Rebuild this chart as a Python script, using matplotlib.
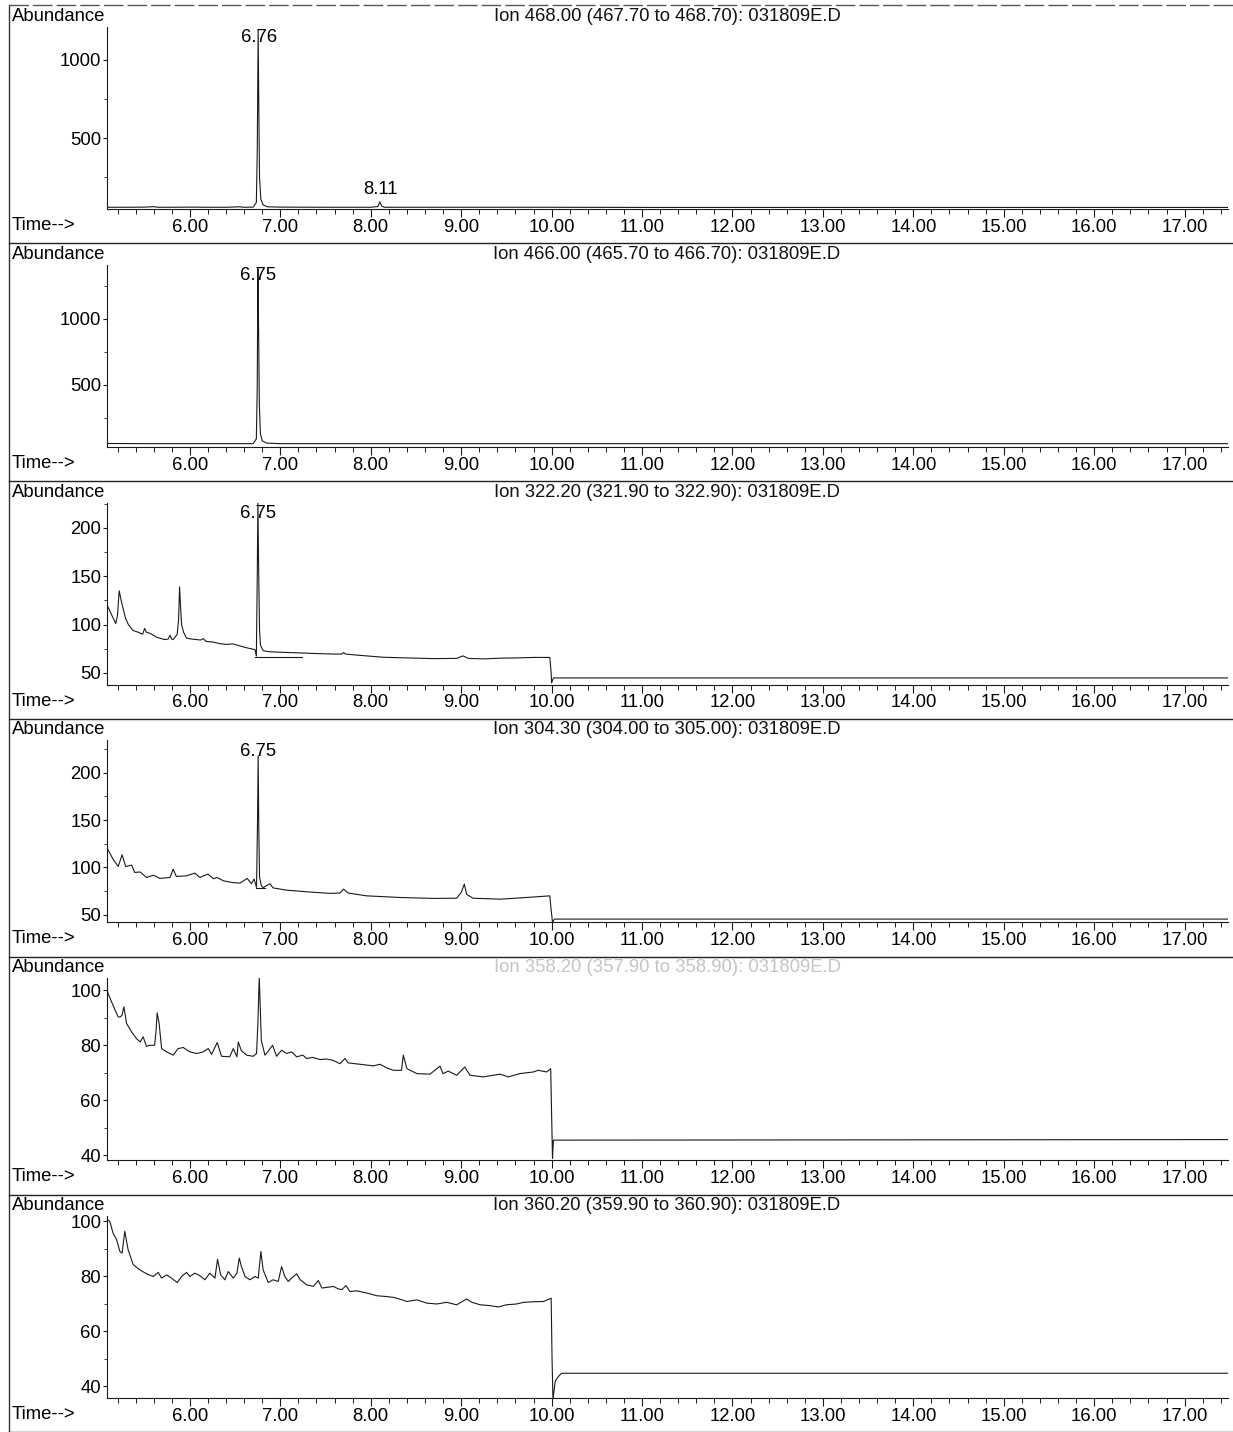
import matplotlib
matplotlib.use("Agg")
import matplotlib.pyplot as plt
import matplotlib.transforms as mtransforms
from matplotlib.ticker import MultipleLocator, FixedLocator

plt.rcParams['font.family'] = ['Liberation Sans', 'DejaVu Sans']

# ---------------- data ----------------
titles = [
    "Ion 468.00 (467.70 to 468.70): 031809E.D",
    "Ion 466.00 (465.70 to 466.70): 031809E.D",
    "Ion 322.20 (321.90 to 322.90): 031809E.D",
    "Ion 304.30 (304.00 to 305.00): 031809E.D",
    "Ion 358.20 (357.90 to 358.90): 031809E.D",
    "Ion 360.20 (359.90 to 360.90): 031809E.D",
]
title_colors = ['#111111', '#111111', '#111111', '#111111', '#c4c4c4', '#111111']

x_major = [6, 7, 8, 9, 10, 11, 12, 13, 14, 15, 16, 17]

t1 = [5.08, 5.3, 5.5, 5.6, 5.65, 5.8, 6.0, 6.2, 6.4, 6.55, 6.6, 6.7, 6.735, 6.745, 6.755,
      6.762, 6.77, 6.785, 6.81, 6.86, 7.0, 7.5, 8.0, 8.08, 8.10, 8.12, 8.15, 8.5, 9.0, 9.5,
      10.0, 11.0, 12.0, 13.0, 14.0, 15.0, 16.0, 17.0, 17.48]
v1 = [60, 60, 61, 64, 60, 60, 61, 60, 60, 63, 60, 61, 90, 420, 1190,
      700, 250, 110, 75, 63, 61, 60, 60, 65, 95, 68, 60, 60, 60, 60,
      60, 59, 59, 59, 59, 59, 59, 59, 59]

t2 = [5.08, 5.5, 6.0, 6.5, 6.7, 6.735, 6.745, 6.752, 6.76, 6.768, 6.78, 6.80, 6.85, 7.0,
      8.0, 9.0, 10.0, 12.0, 14.0, 16.0, 17.48]
v2 = [55, 54, 54, 54, 54, 90, 500, 1380, 900, 350, 130, 75, 58, 54,
      54, 54, 54, 54, 54, 54, 54]

t3 = [5.08, 5.13, 5.18, 5.20, 5.218, 5.24, 5.26, 5.29, 5.32, 5.37, 5.43, 5.477, 5.50, 5.52,
      5.558, 5.63, 5.72, 5.76, 5.779, 5.80, 5.815, 5.86, 5.875, 5.886, 5.897, 5.908, 5.93,
      5.963, 6.02, 6.074, 6.12, 6.147, 6.18, 6.25, 6.33, 6.40, 6.48, 6.55, 6.627, 6.70, 6.72,
      6.735, 6.745, 6.752, 6.76, 6.77, 6.78, 6.81, 6.87, 6.92, 7.05, 7.217, 7.40, 7.60, 7.68,
      7.70, 7.72, 7.90, 8.139, 8.40, 8.69, 8.95, 9.02, 9.08, 9.245, 9.45, 9.614, 9.80, 9.98,
      9.995, 10.0, 10.02, 10.05, 17.48]
v3 = [121, 111, 101, 110, 135, 125, 117, 106, 100, 94, 92, 90, 96, 92,
      91, 87, 84.5, 85, 89, 85, 84.5, 90, 105, 139, 118, 100, 92,
      86, 85, 84.5, 84, 85.5, 82.5, 82, 80.3, 79.5, 80, 78, 76, 74.5, 74,
      67.5, 150, 228, 160, 95, 79, 73, 72, 71.7, 71.2, 70.7, 70, 69.5, 69.5,
      71, 69.5, 68, 66.2, 65.5, 64.8, 65, 67.6, 65, 64.5, 65.3, 65.5, 66, 66,
      50, 39.7, 44.8, 44.8, 44.8]
b3_t = [6.725, 7.235]
b3_v = [66.5, 66.5]

t4 = [5.08, 5.15, 5.207, 5.25, 5.29, 5.355, 5.39, 5.45, 5.52, 5.597, 5.668, 5.78, 5.815,
      5.85, 5.96, 6.055, 6.11, 6.20, 6.258, 6.30, 6.37, 6.46, 6.553, 6.634, 6.68, 6.71, 6.737,
      6.748, 6.755, 6.762, 6.77, 6.79, 6.81, 6.885, 6.92, 7.07, 7.29, 7.55, 7.66, 7.70, 7.75,
      7.955, 8.32, 8.69, 8.95, 9.0, 9.035, 9.06, 9.13, 9.43, 9.725, 9.98, 9.995, 10.01, 10.03,
      17.48]
v4 = [121, 108.8, 101, 113.3, 101, 102.4, 94.7, 95.2, 89.4, 91.8, 88.4, 89.4, 98.2,
      90.5, 91.1, 94, 89.4, 93, 88.1, 89.4, 85.9, 84.2, 83.4, 88.4, 82.8, 87.7, 78.9,
      150, 218, 140, 90, 80.6, 78.7, 82.8, 78.4, 76, 74.3, 72.6, 73, 77.1, 73,
      70, 68.3, 67.3, 67.5, 73.6, 82.4, 71.8, 67.5, 66.5, 68.3, 70, 55, 42, 45.5,
      45.5]
b4_t = [6.735, 6.83]
b4_v = [78.5, 78.5]

t5 = [5.08, 5.096, 5.134, 5.17, 5.207, 5.23, 5.25, 5.27, 5.30, 5.355, 5.41, 5.45, 5.483,
      5.52, 5.557, 5.61, 5.625, 5.638, 5.66, 5.687, 5.742, 5.815, 5.87, 5.926, 6.0, 6.074,
      6.147, 6.203, 6.24, 6.302, 6.35, 6.44, 6.48, 6.52, 6.535, 6.57, 6.627, 6.70, 6.737,
      6.752, 6.767, 6.78, 6.79, 6.83, 6.86, 6.914, 6.959, 7.014, 7.07, 7.125, 7.18, 7.25,
      7.29, 7.36, 7.438, 7.51, 7.585, 7.66, 7.715, 7.75, 7.88, 8.03, 8.10, 8.176, 8.25, 8.34,
      8.36, 8.40, 8.51, 8.655, 8.765, 8.80, 8.857, 8.95, 9.04, 9.097, 9.245, 9.43, 9.52, 9.65,
      9.80, 9.85, 9.946, 9.99, 10.0, 10.01, 10.02, 17.48]
v5 = [101, 98.8, 95.8, 93, 90.3, 90.3, 91, 94, 87.9, 84.9, 82.4, 81.2, 83.1,
      79.6, 80, 80, 85, 91.8, 87.9, 78.8, 77.6, 76.4, 78.8, 79.2, 77.6, 77,
      77.6, 78.8, 76.7, 81, 76, 75.8, 78.8, 75.8, 81.2, 78, 76.4, 76, 77,
      88, 104.9, 92, 81.8, 76.4, 77.6, 80, 76, 78.2, 77, 77.6, 75.8, 76.4,
      75.2, 75.6, 74.8, 75, 74.5, 73.3, 75.2, 73.6, 73.1, 72.5, 73.1, 71.8, 70.9, 70.9,
      76.4, 71.5, 69.7, 69.5, 72.4, 69.7, 70.6, 69.1, 72.1, 69.1, 68.5, 69.5, 68.5, 69.7,
      70.3, 70.9, 70.3, 71.5, 55, 38.8, 45.5, 45.7]

t6 = [5.08, 5.115, 5.15, 5.19, 5.226, 5.25, 5.28, 5.317, 5.373, 5.447, 5.52, 5.594, 5.65,
      5.687, 5.742, 5.797, 5.86, 5.908, 5.963, 6.0, 6.055, 6.11, 6.166, 6.22, 6.277, 6.306,
      6.34, 6.387, 6.424, 6.48, 6.52, 6.546, 6.57, 6.61, 6.664, 6.72, 6.756, 6.785, 6.81,
      6.867, 6.92, 6.977, 7.014, 7.05, 7.088, 7.125, 7.18, 7.22, 7.29, 7.365, 7.42, 7.46,
      7.53, 7.585, 7.64, 7.68, 7.726, 7.77, 7.84, 7.955, 8.066, 8.176, 8.25, 8.32, 8.40, 8.51,
      8.62, 8.73, 8.84, 8.95, 9.06, 9.12, 9.21, 9.32, 9.41, 9.50, 9.614, 9.69, 9.80, 9.91,
      9.995, 10.005, 10.015, 10.04, 10.075, 10.11, 17.48]
v6 = [101, 100, 95.8, 93.3, 89.1, 88.5, 96.4, 89.7, 84.3, 82.4, 81, 80, 81.5,
      79.4, 80.6, 79.4, 77.8, 80, 81.5, 80, 81.2, 80.3, 78.8, 81.2, 79.4, 86.3,
      80.6, 78.8, 81.8, 79.4, 81.2, 86.7, 83.6, 80, 78.8, 80, 79.4, 89.1, 82.4,
      77.8, 78.8, 78.2, 83.6, 80, 78.2, 79.4, 81, 78.8, 77, 76.4, 78.5, 75.8,
      76.1, 76.4, 75.5, 75.2, 76.7, 74.5, 74.8, 74, 73, 72.7, 72.4, 71.8, 70.9, 71.5,
      70.3, 70, 70.6, 69.7, 71.8, 70.6, 69.7, 69.4, 68.9, 69.7, 70, 70.6, 70.8, 70.9,
      72.1, 50, 35.2, 42, 43.6, 44.8, 44.8]

series_t = [t1, t2, t3, t4, t5, t6]
series_v = [v1, v2, v3, v4, v5, v6]
y_majors = [[500, 1000], [500, 1000], [50, 100, 150, 200], [50, 100, 150, 200],
            [40, 60, 80, 100], [40, 60, 80, 100]]
y_minor_step = [250, 250, 25, 25, 10, 10]
y_limits = [(49, 1210), (30, 1409), (37.9, 226.2), (42, 234), (38.2, 104.4), (35.8, 102)]

# peak labels: (panel index, time, text, mode)
peak_labels = [(0, 6.76, "6.76", "top"), (0, 8.11, "8.11", "above"),
               (1, 6.75, "6.75", "top"), (2, 6.75, "6.75", "top"), (3, 6.75, "6.75", "top")]
peak_label_heights = [None, 95, None, None, None]

# ---------------- layout ----------------
W, H = 1233, 1432
fig = plt.figure(figsize=(W / 100, H / 100), dpi=100)
X0, X1 = 106.7, 1228.0
AX_H = 182.0
FS = 13.3
LINE = '#1a1a1a'

def fy(py):
    return 1 - py / H

axes = []
for i in range(6):
    bottom = 209 + 237.8 * i
    ax = fig.add_axes([X0 / W, fy(bottom), (X1 - X0) / W, AX_H / H])
    axes.append(ax)
    ax.plot(series_t[i], series_v[i], color=LINE, lw=0.8)
    ax.set_xlim(5.08, 17.48)
    ax.set_ylim(*y_limits[i])
    for s in ['top', 'right']:
        ax.spines[s].set_visible(False)
    for s in ['left', 'bottom']:
        ax.spines[s].set_color(LINE)
        ax.spines[s].set_linewidth(0.8)
    ax.xaxis.set_major_locator(FixedLocator(x_major))
    ax.set_xticklabels(["%.2f" % v for v in x_major])
    ax.xaxis.set_minor_locator(MultipleLocator(0.2))
    ax.yaxis.set_major_locator(FixedLocator(y_majors[i]))
    ax.yaxis.set_minor_locator(MultipleLocator(y_minor_step[i]))
    ax.tick_params(axis='x', which='major', direction='out', length=6, width=0.8,
                   pad=1.0, labelsize=FS, color=LINE)
    ax.tick_params(axis='x', which='minor', direction='out', length=3.5, width=0.7, color=LINE)
    ax.tick_params(axis='y', which='major', direction='out', length=3, width=0.8,
                   pad=1.0, labelsize=FS, color=LINE)
    ax.tick_params(axis='y', which='minor', direction='out', length=2, width=0.6, color=LINE)
    ax.patch.set_alpha(0)

    # texts
    fig.text(12 / W, fy(bottom - 188), "Abundance", fontsize=FS, va='baseline', ha='left')
    fig.text(667 / W, fy(bottom - 188), titles[i], fontsize=FS, va='baseline', ha='center',
             color=title_colors[i])
    fig.text(12 / W, fy(bottom + 21), "Time-->", fontsize=FS, va='baseline', ha='left')

axes[2].plot(b3_t, b3_v, color=LINE, lw=0.8)
axes[3].plot(b4_t, b4_v, color=LINE, lw=0.8)

for (pi, pt, txt, mode), hgt in zip(peak_labels, peak_label_heights):
    ax = axes[pi]
    if mode == "top":
        tr = mtransforms.blended_transform_factory(ax.transData, ax.transAxes)
        ax.text(pt, 1 - 11 / AX_H, txt, transform=tr, ha='center', va='center', fontsize=FS)
    else:
        ax.annotate(txt, (pt, hgt), xytext=(0, 3), textcoords='offset points',
                    ha='center', va='bottom', fontsize=FS)

# frame lines
frame = fig.add_axes([0, 0, 1, 1], zorder=-1)
frame.set_xlim(0, W)
frame.set_ylim(H, 0)
frame.axis('off')
frame.plot([9, 9], [5, H], color='#333333', lw=1.0)
frame.plot([9, W], [5, 5], color='#555555', lw=1.0, dashes=(14, 3))
for i in range(6):
    yy = 243.3 + 237.8 * i
    frame.plot([9, W], [yy, yy], color='#222222', lw=1.0)

fig.savefig("out.png", dpi=100)
